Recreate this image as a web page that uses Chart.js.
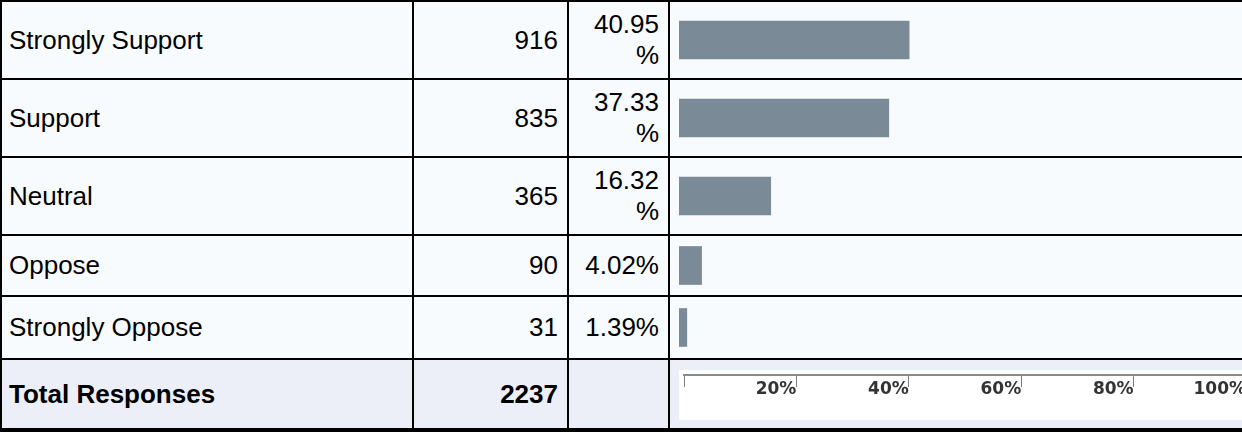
<!DOCTYPE html>
<html><head><meta charset="utf-8">
<script src="https://cdn.jsdelivr.net/npm/chart.js@4.4.1/dist/chart.umd.min.js"></script>
<style>
html,body{margin:0;padding:0;background:#fff;width:1242px;height:433px;overflow:hidden;}
#grid{position:absolute;left:0;top:0;width:1242px;height:432px;background:#000;overflow:hidden;}
.cell{position:absolute;background:#f8fbfd;display:flex;align-items:center;box-sizing:border-box;
  font-family:"Liberation Sans",Arial,sans-serif;font-size:26px;line-height:31px;color:#000;white-space:nowrap;}
.lbl{padding-left:7px;justify-content:flex-start;}
.num{padding-right:9px;justify-content:flex-end;text-align:right;}
.pct{padding-right:9px;justify-content:flex-end;text-align:right;}
.tot{background:#eceff7;font-weight:bold;}
canvas{display:block;}
</style>
</head><body>
<div id="grid"></div>
<script>
// ---- data ----
const categories = ['Strongly Support', 'Support', 'Neutral', 'Oppose', 'Strongly Oppose'];
const counts = [916, 835, 365, 90, 31];
const percents = [40.95, 37.33, 16.32, 4.02, 1.39];
const totalLabel = 'Total Responses';
const totalCount = 2237;
const axisTicks = [0, 20, 40, 60, 80, 100];

// ---- layout ----
const colX = [2, 414, 569, 670, 1242];
const rowY = [2, 80, 158, 236, 297, 360, 430];
const barColor = '#7a8a96';
const grid = document.getElementById('grid');

function cell(c, r, cls, html) {
  const d = document.createElement('div');
  d.className = 'cell ' + cls;
  d.style.left = colX[c] + 'px';
  d.style.top = rowY[r] + 'px';
  d.style.width = (colX[c + 1] - colX[c] - (c === 3 ? 0 : 2)) + 'px';
  d.style.height = (rowY[r + 1] - rowY[r] - 2) + 'px';
  if (html !== undefined) d.innerHTML = html;
  grid.appendChild(d);
  return d;
}

const mctx = document.createElement('canvas').getContext('2d');
mctx.font = '26px "Liberation Sans", Arial, sans-serif';
const pctAvail = colX[3] - colX[2] - 2 - 18;

categories.forEach((cat, i) => {
  cell(0, i, 'lbl', cat);
  cell(1, i, 'num', String(counts[i]));
  const s = percents[i].toFixed(2);
  const txt = mctx.measureText(s + '%').width > pctAvail ? s + '<br>%' : s + '%';
  cell(2, i, 'pct', txt);
  const bc = cell(3, i, '');
  const cv = document.createElement('canvas');
  const w = colX[4] - colX[3], h = rowY[i + 1] - rowY[i] - 2;
  cv.width = w; cv.height = h;
  cv.style.width = w + 'px'; cv.style.height = h + 'px';
  bc.appendChild(cv);
  new Chart(cv, {
    type: 'bar',
    data: { labels: [cat], datasets: [{ data: [percents[i]], backgroundColor: barColor, borderWidth: 0, barThickness: 38 }] },
    options: {
      indexAxis: 'y', responsive: false, animation: false,
      layout: { padding: { left: 9, right: 1, top: 0, bottom: 0 } },
      scales: { x: { display: false, min: 0, max: 100 }, y: { display: false } },
      plugins: { legend: { display: false }, tooltip: { enabled: false } }
    }
  });
});

cell(0, 5, 'lbl tot', totalLabel);
cell(1, 5, 'num tot', String(totalCount));
cell(2, 5, 'tot', '');
const ac = cell(3, 5, 'tot');
ac.style.overflow = 'hidden';
const acv = document.createElement('canvas');
const AW = 567, AH = 50;
acv.width = AW; acv.height = AH;
acv.style.cssText = 'position:absolute;left:9px;top:10px;width:' + AW + 'px;height:' + AH + 'px;background:#fff;';
ac.appendChild(acv);
new Chart(acv, {
  type: 'scatter',
  data: { datasets: [{ data: [] }] },
  options: {
    responsive: false, animation: false,
    layout: { padding: { left: 5, right: 0, top: 0, bottom: 0 } },
    scales: {
      x: {
        type: 'linear', position: 'bottom', min: 0, max: 100,
        afterBuildTicks: (s) => { s.ticks = axisTicks.map(v => ({ value: v })); },
        afterFit: (s) => { s.height = 45; },
        grid: { drawOnChartArea: false, drawTicks: true, tickLength: 12, color: '#7d7d7d', lineWidth: 1 },
        border: { display: true, color: '#8a8a8a', width: 2 },
        ticks: {
          align: 'end', padding: -8, maxRotation: 0, autoSkip: false,
          color: '#333', font: { family: '"DejaVu Sans", Verdana, sans-serif', size: 17, weight: 'bold' },
          callback: (v) => v === 0 ? '' : v + '%'
        }
      },
      y: { display: false }
    },
    plugins: { legend: { display: false }, tooltip: { enabled: false } }
  }
});
</script>
</body></html>
